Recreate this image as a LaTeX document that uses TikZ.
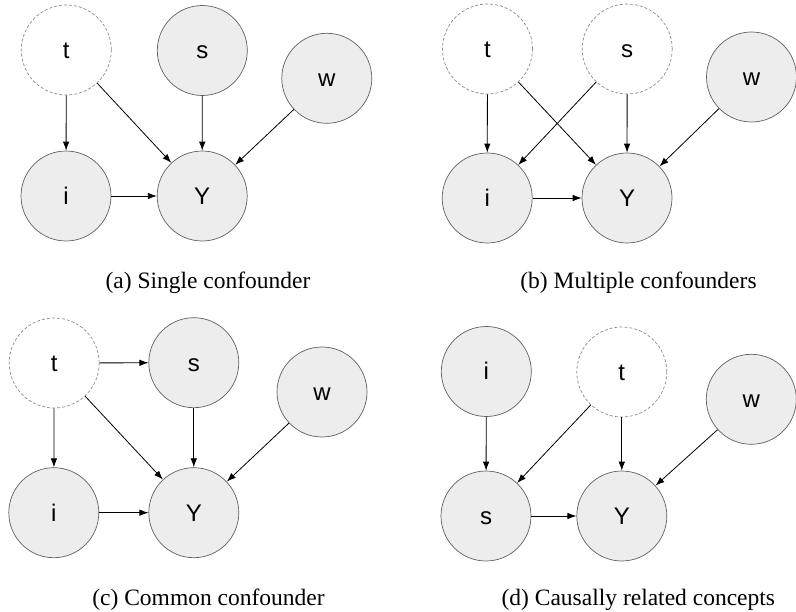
\documentclass[tikz,border=0pt]{standalone}
\usepackage{fontspec}
\setmainfont{Liberation Serif}
\newfontfamily\nodefont{Liberation Sans}
\usetikzlibrary{arrows.meta}
\begin{document}
\begin{tikzpicture}[x=1pt,y=-1pt,
  var/.style={circle,draw=black!62,fill=black!7,line width=0.7pt,minimum size=90pt,inner sep=0pt,
    text height=17pt,text depth=0pt,font=\nodefont\fontsize{24}{28}\selectfont},
  latent/.style={var,draw=black!45,fill=white,dash pattern=on 3pt off 2pt},
  edge/.style={-{Latex[length=9pt,width=6.5pt]},line width=0.8pt,black},
  captext/.style={font=\fontsize{23.5}{28}\selectfont,anchor=base,inner sep=0pt}]
\useasboundingbox (0,0) rectangle (796,612);
% (a)
\node[latent] (at) at (66.3,50) {t};
\node[var] (as) at (202.3,50.5) {s};
\node[var] (aw) at (326.8,78.3) {w};
\node[var] (ai) at (66,196) {i};
\node[var] (aY) at (202.2,196) {Y};
\draw[edge] (at) -- (ai);
\draw[edge] (at) -- (aY);
\draw[edge] (as) -- (aY);
\draw[edge] (aw) -- (aY);
\draw[edge] (ai) -- (aY);
\node[captext] (acap) at (208,289) {(a) Single confounder};
% (b)
\node[latent] (bt) at (487.5,49) {t};
\node[latent] (bs) at (627.2,49) {s};
\node[var] (bw) at (751.5,77) {w};
\node[var] (bi) at (487.2,198) {i};
\node[var] (bY) at (627,198) {Y};
\draw[edge] (bt) -- (bi);
\draw[edge] (bt) -- (bY);
\draw[edge] (bs) -- (bi);
\draw[edge] (bs) -- (bY);
\draw[edge] (bw) -- (bY);
\draw[edge] (bi) -- (bY);
\node[captext] (bcap) at (638.5,289) {(b) Multiple confounders};
% (c)
\node[latent] (ct) at (54.2,363) {t};
\node[var] (cs) at (193.8,362.7) {s};
\node[var] (cw) at (322,392) {w};
\node[var] (ci) at (53.8,512.7) {i};
\node[var] (cY) at (193.8,512.7) {Y};
\draw[edge] (ct) -- (cs);
\draw[edge] (ct) -- (ci);
\draw[edge] (ct) -- (cY);
\draw[edge] (cs) -- (cY);
\draw[edge] (cw) -- (cY);
\draw[edge] (ci) -- (cY);
\node[captext] (ccap) at (208.5,605) {(c) Common confounder};
% (d)
\node[var] (di) at (486.3,371.5) {i};
\node[latent] (dt) at (621.8,372) {t};
\node[var] (dw) at (751.3,399.3) {w};
\node[var] (ds) at (486,516) {s};
\node[var] (dY) at (621.8,516) {Y};
\draw[edge] (di) -- (ds);
\draw[edge] (dt) -- (ds);
\draw[edge] (dt) -- (dY);
\draw[edge] (dw) -- (dY);
\draw[edge] (ds) -- (dY);
\node[captext] (dcap) at (638.3,605) {(d) Causally related concepts};
\end{tikzpicture}
\end{document}
